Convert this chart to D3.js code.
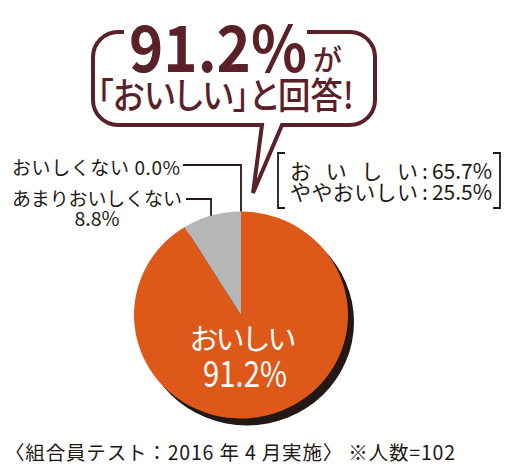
<!DOCTYPE html>
<html><head><meta charset="utf-8">
<script src="https://cdn.jsdelivr.net/npm/d3@7/dist/d3.min.js"></script>
<style>html,body{margin:0;padding:0;background:#fff}svg{display:block}.palt{font-feature-settings:"palt" 1}</style>
</head><body>
<svg id="c" width="506" height="476"></svg>
<script>
const categories = ["おいしい", "あまりおいしくない", "おいしくない"];
const values = [91.2, 8.8, 0.0];
const subCategories = ["おいしい", "ややおいしい"];
const subValues = [65.7, 25.5];
const headline = "91.2%";
const footer = "〈組合員テスト：2016 年 4 月実施〉 ※人数=102";

const FONT = "'Noto Sans CJK JP','Noto Sans',sans-serif";
const DARK = "#231815", MAROON = "#5b2128";
const colors = d3.scaleOrdinal().domain(categories).range(["#dd5819", "#b5b6b6", "#b5b6b6"]);

const svg = d3.select("#c");
const cx = 241, cy = 315, R = 107, sy = 0.967;

// speech bubble
svg.append("path")
  .attr("d", "M307,32 H350 A25,25 0 0 1 375,57 V100 A25,25 0 0 1 350,125 H282 L253,193 L262,125 H118 A25,25 0 0 1 93,100 V57 A25,25 0 0 1 118,32 H124")
  .attr("fill", "none").attr("stroke", MAROON).attr("stroke-width", 4).attr("stroke-linejoin", "miter");

svg.append("text").attr("x", 129).attr("y", 72).attr("font-family", FONT).attr("font-weight", 700)
  .attr("font-size", 64).attr("fill", MAROON).attr("textLength", 178).attr("lengthAdjust", "spacingAndGlyphs")
  .text(headline);
svg.append("text").attr("x", 313).attr("y", 71).attr("font-family", FONT).attr("font-weight", 500)
  .attr("font-size", 29).attr("fill", MAROON).text("が");
svg.append("text").attr("class", "palt").attr("x", 97).attr("y", 109).attr("font-family", FONT).attr("font-weight", 500)
  .attr("font-size", 36).attr("fill", MAROON).attr("textLength", 257).attr("lengthAdjust", "spacingAndGlyphs")
  .text("「" + categories[0] + "」と回答!");

// pie
const pie = d3.pie().sort(null).value(d => d)(values);
const arc = d3.arc().innerRadius(0).outerRadius(R);
const g = svg.append("g").attr("transform", `translate(${cx},${cy}) scale(1,${sy})`);
g.append("circle").attr("cx", 6).attr("cy", 7 / sy).attr("r", R).attr("fill", DARK);
g.selectAll("path.s").data(pie).join("path").attr("class", "s")
  .attr("d", arc).attr("fill", (d, i) => colors(categories[i]));

// leader lines
const edgeY = x => cy - sy * Math.sqrt(R * R - (x - cx) * (x - cx));
const zeroAng = pie[2].startAngle;
const zx = cx + R * Math.sin(zeroAng);
const lines = [
  [[183, 165], [zx, 165], [zx, edgeY(zx)]],
  [[186, 199], [211, 199], [211, edgeY(211)]]
];
lines.forEach(p => svg.append("path").attr("d", d3.line()(p)).attr("fill", "none")
  .attr("stroke", DARK).attr("stroke-width", 1.8));

const lbl = (x, y, t, size, anchor, len) => {
  const e = svg.append("text").attr("x", x).attr("y", y).attr("font-family", FONT)
    .attr("font-size", size).attr("fill", DARK).attr("text-anchor", anchor || "start")
    .attr("dominant-baseline", "central").text(t);
  if (len) e.attr("textLength", len).attr("lengthAdjust", "spacing");
  return e;
};
lbl(12, 166, categories[2] + " " + values[2].toFixed(1) + "%", 19, "start", 168);
lbl(12, 197, categories[1], 19, "start", 170);
lbl(97, 217, values[1].toFixed(1) + "%", 19.5, "middle");

// bracket box
svg.append("path").attr("d", "M285,153 H278 V208 H285 M493,153 H500 V208 H493")
  .attr("fill", "none").attr("stroke", DARK).attr("stroke-width", 1.8);
const rowY = [170, 191];
subCategories.forEach((c, i) => {
  lbl(290, rowY[i], c, 21, "start", 128);
  lbl(425, rowY[i], ":", 21, "middle");
  lbl(432, rowY[i], subValues[i].toFixed(1) + "%", 21, "start", 60);
});

// pie label
svg.append("text").attr("x", 243).attr("y", 337).attr("font-family", FONT).attr("font-size", 29)
  .attr("fill", "#fff").attr("text-anchor", "middle").attr("dominant-baseline", "central")
  .attr("textLength", 107).attr("lengthAdjust", "spacing").text(categories[0]);
svg.append("text").attr("x", 245).attr("y", 371).attr("font-family", FONT).attr("font-size", 36)
  .attr("fill", "#fff").attr("text-anchor", "middle").attr("dominant-baseline", "central")
  .attr("textLength", 84).attr("lengthAdjust", "spacingAndGlyphs").text(values[0].toFixed(1) + "%");

// footer
lbl(5, 451, footer, 19.5, "start", 450);
</script>
</body></html>
